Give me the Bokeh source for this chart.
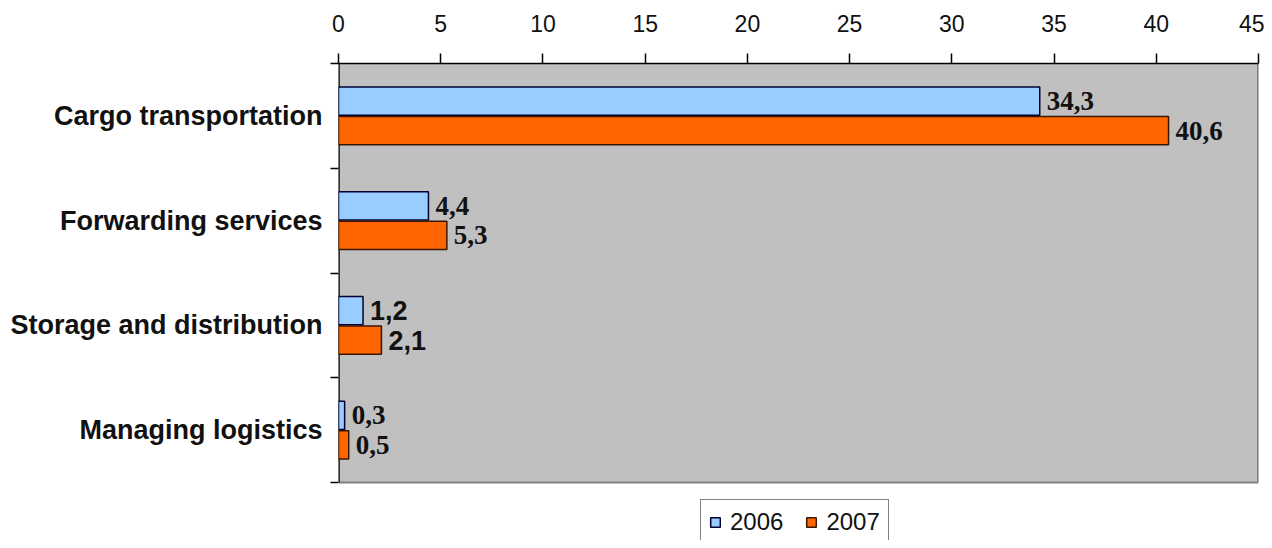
from bokeh.plotting import figure
from bokeh.models import ColumnDataSource, FixedTicker, Legend, LegendItem, Range1d
from bokeh.embed import file_html
from bokeh.resources import INLINE

categories = ["Cargo transportation", "Forwarding services",
              "Storage and distribution", "Managing logistics"]
values_2006 = [34.3, 4.4, 1.2, 0.3]
values_2007 = [40.6, 5.3, 2.1, 0.5]
x_ticks = [0, 5, 10, 15, 20, 25, 30, 35, 40, 45]
series_names = ["2006", "2007"]

n = len(categories)
x_max = x_ticks[-1]
pos = [n - i - 0.5 for i in range(n)]
serif = "Liberation Serif"
sans = "Liberation Sans"
fonts = [serif, serif, sans, serif]

def fmt(v):
    return f"{v:.1f}".replace(".", ",")

src = ColumnDataSource(dict(
    y06=[p_ + 0.14 for p_ in pos],
    y07=[p_ - 0.14 for p_ in pos],
    v06=values_2006,
    v07=values_2007,
    t06=[fmt(v) for v in values_2006],
    t07=[fmt(v) for v in values_2007],
    font=fonts,
))

W, H = 1264, 540
top, left, right = 63, 338, 6
frame_h = H - top
band_px = (482 - top) / n
y_start = n - frame_h / band_px

p = figure(width=W, height=H, x_range=Range1d(0, x_max), y_range=Range1d(y_start, n),
           x_axis_location="above", output_backend="svg", toolbar_location=None,
           min_border_left=left, min_border_right=right, min_border_top=top,
           min_border_bottom=0)

p.background_fill_color = "white"
p.border_fill_color = "white"
p.outline_line_color = None
p.xgrid.visible = False
p.ygrid.visible = False

# plot area
p.quad(left=[0], right=[x_max], bottom=[0], top=[n], fill_color="#C0C0C0", line_color=None)
p.segment(x0=[0, x_max], y0=[0, 0], x1=[x_max, x_max], y1=[0, n],
          line_color="#808080", line_width=[2, 3])
p.segment(x0=[0], y0=[0], x1=[0], y1=[n], line_color="black", line_width=2.5)

r1 = p.hbar(y="y06", right="v06", left=0, height=0.27, source=src,
            fill_color="#99CCFF", line_color="#000033", line_width=1.5)
r2 = p.hbar(y="y07", right="v07", left=0, height=0.27, source=src,
            fill_color="#FF6600", line_color="#3a1500", line_width=1.5)

p.text(x="v06", y="y06", text="t06", source=src, x_offset=7, text_baseline="middle",
       text_font="font", text_font_style="bold", text_font_size="27px", text_color="#111111")
p.text(x="v07", y="y07", text="t07", source=src, x_offset=7, text_baseline="middle",
       text_font="font", text_font_style="bold", text_font_size="27px", text_color="#111111")

xa = p.xaxis[0]
xa.ticker = FixedTicker(ticks=x_ticks)
xa.axis_line_color = "black"
xa.axis_line_width = 1.5
xa.major_tick_line_color = "black"
xa.major_tick_line_width = 1.5
xa.major_tick_in = 0
xa.major_tick_out = 10
xa.minor_tick_line_color = None
xa.major_label_standoff = 22
xa.major_label_text_font = "Liberation Sans"
xa.major_label_text_font_size = "23px"
xa.major_label_text_color = "#111111"

ya = p.yaxis[0]
ya.ticker = FixedTicker(ticks=pos, minor_ticks=list(range(n + 1)))
ya.major_label_overrides = {float(pp): c for pp, c in zip(pos, categories)}
ya.axis_line_color = None
ya.major_tick_in = 0
ya.major_tick_out = 0
ya.minor_tick_in = 0
ya.minor_tick_out = 8
ya.minor_tick_line_color = "black"
ya.minor_tick_line_width = 1.5
ya.major_label_standoff = 8
ya.major_label_text_font = "Liberation Sans"
ya.major_label_text_font_style = "bold"
ya.major_label_text_font_size = "27px"
ya.major_label_text_color = "#111111"

legend = Legend(items=[LegendItem(label=series_names[0], renderers=[r1]),
                       LegendItem(label=series_names[1], renderers=[r2])],
                orientation="horizontal", location=(362, -5))
legend.border_line_color = "black"
legend.border_line_width = 1.5
legend.background_fill_color = "white"
legend.background_fill_alpha = 1
legend.glyph_width = 12
legend.glyph_height = 12
legend.padding = 8
legend.spacing = 22
legend.label_standoff = 9
legend.margin = 0
legend.label_text_font = "Liberation Sans"
legend.label_text_font_size = "24px"
legend.label_text_color = "#111111"
p.add_layout(legend)

open("out.html", "w").write(file_html(p, INLINE))
